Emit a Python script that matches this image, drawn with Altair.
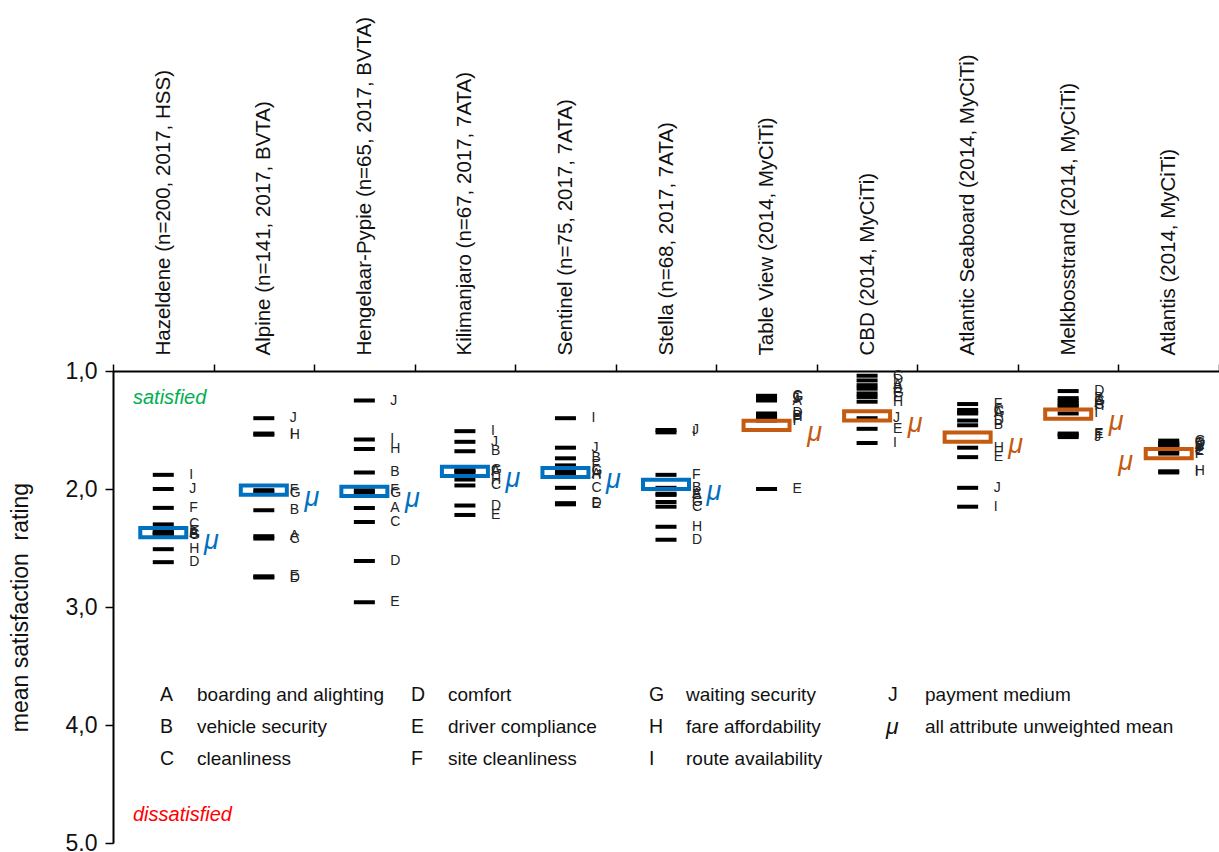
import altair as alt
import pandas as pd

FONT = "Liberation Sans, Arial, sans-serif"

# Survey sites (column headings) and the survey year of each
SITES = [
    "Hazeldene (n=200, 2017, HSS)",
    "Alpine (n=141, 2017, BVTA)",
    "Hengelaar-Pypie (n=65, 2017, BVTA)",
    "Kilimanjaro (n=67, 2017, 7ATA)",
    "Sentinel (n=75, 2017, 7ATA)",
    "Stella (n=68, 2017, 7ATA)",
    "Table View (2014, MyCiTi)",
    "CBD  (2014, MyCiTi)",
    "Atlantic Seaboard (2014, MyCiTi)",
    "Melkbosstrand (2014, MyCiTi)",
    "Atlantis (2014, MyCiTi)",
]
YEARS = ["2017", "2017", "2017", "2017", "2017", "2017",
         "2014", "2014", "2014", "2014", "2014"]

ATTRIBUTES = ["A", "B", "C", "D", "E", "F", "G", "H", "I", "J"]

# Mean rating per attribute A..J for each site
HAZELDENE = [2.37, 2.38, 2.30, 2.62, 2.36, 2.16, 2.39, 2.51, 1.88, 2.00]
ALPINE = [2.40, 2.18, 2.42, 2.75, 2.74, 2.01, 2.03, 1.54, 1.53, 1.40]
HENGELAAR = [2.16, 1.86, 2.28, 2.61, 2.96, 2.01, 2.03, 1.66, 1.58, 1.25]
KILIMANJARO = [1.85, 1.68, 1.97, 2.14, 2.22, 1.86, 1.84, 1.92, 1.51, 1.60]
SENTINEL = [1.87, 1.74, 1.99, 2.12, 2.13, 1.80, 1.85, 1.88, 1.40, 1.65]
STELLA = [2.04, 1.99, 2.15, 2.43, 2.05, 1.88, 2.11, 2.32, 1.52, 1.50]
TABLE_VIEW = [1.25, 1.38, 1.21, 1.36, 2.00, 1.41, 1.22, 1.39, 1.42, 1.24]
CBD = [1.12, 1.15, 1.04, 1.08, 1.49, 1.22, 1.19, 1.26, 1.61, 1.40]
ATLANTIC_SEABOARD = [1.36, 1.46, 1.33, 1.42, 1.73, 1.28, 1.35, 1.65, 2.15, 1.99]
MELKBOSSTRAND = [1.27, 1.23, 1.29, 1.17, 1.53, 1.54, 1.25, 1.30, 1.36, 1.56]
ATLANTIS = [1.63, 1.64, 1.61, 1.62, 1.68, 1.70, 1.59, 1.85, 1.86, 1.66]

SITE_RATINGS = [HAZELDENE, ALPINE, HENGELAAR, KILIMANJARO, SENTINEL, STELLA,
                TABLE_VIEW, CBD, ATLANTIC_SEABOARD, MELKBOSSTRAND, ATLANTIS]

# All-attribute unweighted mean per site
MEANS = [2.37, 2.01, 2.02, 1.85, 1.86, 1.96, 1.46, 1.38, 1.56, 1.365, 1.70]

# Key to the attribute letters
LEGEND_COLS = [
    (["A", "B", "C"], ["boarding  and alighting", "vehicle security", "cleanliness"]),
    (["D", "E", "F"], ["comfort", "driver compliance", "site cleanliness"]),
    (["G", "H", "I"], ["waiting security", "fare affordability", "route availability"]),
    (["J"], ["payment medium", "all attribute  unweighted  mean"]),
]

rows = []
for site, vals in zip(SITES, SITE_RATINGS):
    for attr, v in zip(ATTRIBUTES, vals):
        rows.append({"site": site, "attribute": attr, "rating": v})
ratings = pd.DataFrame(rows)
means = pd.DataFrame({"site": SITES, "rating": MEANS, "survey": YEARS})

colour = alt.Color("survey:N", scale=alt.Scale(domain=["2017", "2014"],
                                               range=["#0070C0", "#C55A11"]),
                   legend=None)

x = alt.X("site:N", sort=SITES,
          scale=alt.Scale(paddingInner=0, paddingOuter=0),
          axis=alt.Axis(orient="top", title=None, labelAngle=270,
                        labelAlign="left", labelBaseline="middle",
                        labelPadding=9, labelLimit=0, labelFontSize=20.5,
                        labelColor="#111111", tickBand="extent", tickSize=7,
                        tickColor="black", tickWidth=1.5,
                        domainColor="black", domainWidth=2))

y = alt.Y("rating:Q",
          scale=alt.Scale(domain=[1, 5], reverse=True, nice=False, zero=False),
          axis=alt.Axis(values=[1, 2, 3, 4, 5], grid=False,
                        labelExpr="datum.value == 5 ? '5.0' : replace(format(datum.value, '.1f'), '.', ',')",
                        labelFontSize=23, labelColor="#111111", labelPadding=8,
                        tickSize=8, tickColor="black", tickWidth=1.5,
                        domainColor="black", domainWidth=2,
                        title="mean satisfaction\u00a0\u00a0rating", titleFontSize=23,
                        titleFontWeight="normal", titleColor="#111111",
                        titleAngle=270, titleX=-93, titleY=236,
                        titleAlign="center", titleBaseline="middle"))

ticks = alt.Chart(ratings).mark_tick(
    color="black", thickness=4, size=21, opacity=1
).encode(x=x, y=y)

letters = alt.Chart(ratings).mark_text(
    align="left", baseline="middle", dx=26, fontSize=14, color="#222222"
).encode(x=x, y=y, text="attribute:N")

mean_box = alt.Chart(means).mark_point(
    shape="M-1,-0.2H1V0.2H-1Z", size=2116, filled=False, strokeWidth=4, opacity=1
).encode(x=x, y=y, color=colour)

mu_right = alt.Chart(means).transform_filter(
    alt.datum.site != "Atlantis (2014, MyCiTi)"
).mark_text(text="μ", fontStyle="italic", fontSize=27, dx=48, dy=8,
            align="center", baseline="middle").encode(x=x, y=y, color=colour)

mu_left = alt.Chart(means).transform_filter(
    alt.datum.site == "Atlantis (2014, MyCiTi)"
).mark_text(text="μ", fontStyle="italic", fontSize=27, dx=-43, dy=8,
            align="center", baseline="middle").encode(x=x, y=y, color=colour)

note_df = pd.DataFrame({"k": [0]})


def note(text, px, py, **kw):
    return alt.Chart(note_df).mark_text(
        text=text, align="left", baseline="middle", lineBreak="\n",
        lineHeight=32, **kw
    ).encode(x=alt.value(px), y=alt.value(py))


satisfied = note("satisfied", 20, 27, fontSize=20, fontStyle="italic", color="#00B050")
dissatisfied = note("dissatisfied", 20, 444, fontSize=20, fontStyle="italic", color="#FF0000")

key_layers = []
col_x = [47, 298, 536, 775]
for (keys, labels), cx in zip(LEGEND_COLS, col_x):
    key_layers.append(note("\n".join(keys), cx, 324, fontSize=19.5, color="#111111"))
    key_layers.append(note("\n".join(labels), cx + 37, 324, fontSize=19, color="#111111"))
key_layers.append(note("μ", 773, 356, fontSize=23, fontStyle="italic", color="#111111"))

chart = alt.layer(
    ticks, letters, mean_box, mu_right, mu_left, satisfied, dissatisfied, *key_layers
).properties(
    width=1106, height=472,
    padding={"left": 113, "top": 371, "right": 0, "bottom": 9},
    autosize=alt.AutoSizeParams(type="none"),
).configure(font=FONT).configure_view(stroke=None)

chart.save("out.html", embed_options={"renderer": "svg", "actions": False})
